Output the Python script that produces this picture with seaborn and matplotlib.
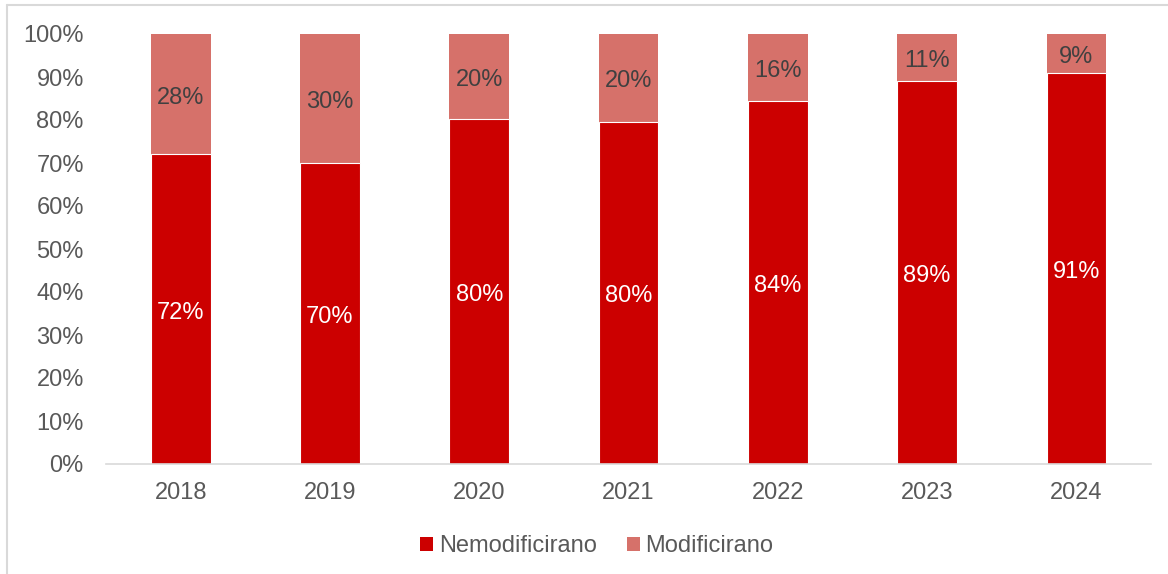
import matplotlib
matplotlib.use("Agg")
import matplotlib.pyplot as plt
import seaborn as sns
import pandas as pd
from matplotlib.lines import Line2D
from matplotlib.patches import Patch

years = ["2018", "2019", "2020", "2021", "2022", "2023", "2024"]
nemodificirano = [72, 70, 80.2, 79.6, 84.4, 89.1, 90.9]
modificirano = [28, 30, 19.8, 20.4, 15.6, 10.9, 9.1]
yticks = [0, 10, 20, 30, 40, 50, 60, 70, 80, 90, 100]

dark = "#CC0000"
light = "#D6716A"
gray = "#595959"

sns.set_theme(style="white")
plt.rcParams["font.family"] = ["Liberation Sans", "DejaVu Sans"]

fig = plt.figure(figsize=(11.68, 5.74), dpi=100)
ax = fig.add_axes([106 / 1168, 1 - 464 / 574, (1151 - 106) / 1168, (464 - 34) / 574])

totals = [a + b for a, b in zip(nemodificirano, modificirano)]
df = pd.DataFrame({"year": years, "nem": nemodificirano, "mod": modificirano, "tot": totals})

sns.barplot(data=df, x="year", y="tot", color=light, width=0.4, saturation=1,
            edgecolor="none", ax=ax)
sns.barplot(data=df, x="year", y="nem", color=dark, width=0.4, saturation=1,
            edgecolor="white", linewidth=0.8, ax=ax)

n = len(years)
nem_patches = ax.patches[n:2 * n]
for i in range(n):
    p = nem_patches[i]
    cx = p.get_x() + p.get_width() / 2
    ax.annotate(f"{round(nemodificirano[i])}%", (cx, nemodificirano[i] / 2),
                xytext=(0, -2.5), textcoords="offset points", ha="center",
                va="center", color="white", fontsize=17)
    ax.annotate(f"{round(modificirano[i])}%", (cx, nemodificirano[i] + modificirano[i] / 2),
                xytext=(0, -2.5), textcoords="offset points", ha="center",
                va="center", color="#404040", fontsize=17)

ax.set_ylim(0, 100)
ax.set_xlim(-0.5, n - 0.5)
ax.set_yticks(yticks)
ax.set_yticklabels([f"{v}%" for v in yticks])
ax.set_xlabel("")
ax.set_ylabel("")
ax.tick_params(axis="both", colors=gray, labelsize=17, length=0)
ax.tick_params(axis="y", pad=16)
ax.tick_params(axis="x", pad=13)
for s in ["top", "right", "left"]:
    ax.spines[s].set_visible(False)
ax.spines["bottom"].set_color("#D9D9D9")
ax.spines["bottom"].set_linewidth(1.2)
ax.grid(False)

handles = [Patch(facecolor=dark, edgecolor="none"), Patch(facecolor=light, edgecolor="none")]
fig.legend(handles, ["Nemodificirano", "Modificirano"], loc="center",
           bbox_to_anchor=(597 / 1168, 1 - 546 / 574), ncol=2, frameon=False,
           fontsize=17, labelcolor=gray, handlelength=0.55, handleheight=0.55,
           handletextpad=0.25, columnspacing=1.25, borderpad=0.2)

# outer chart frame (light gray)
fig.add_artist(Line2D([7 / 1168, 1], [1 - 5 / 574, 1 - 5 / 574], color="#D9D9D9", lw=1.5,
                      transform=fig.transFigure))
fig.add_artist(Line2D([7 / 1168, 7 / 1168], [0, 1 - 5 / 574], color="#D9D9D9", lw=1.5,
                      transform=fig.transFigure))

fig.savefig("out.png", dpi=100)
